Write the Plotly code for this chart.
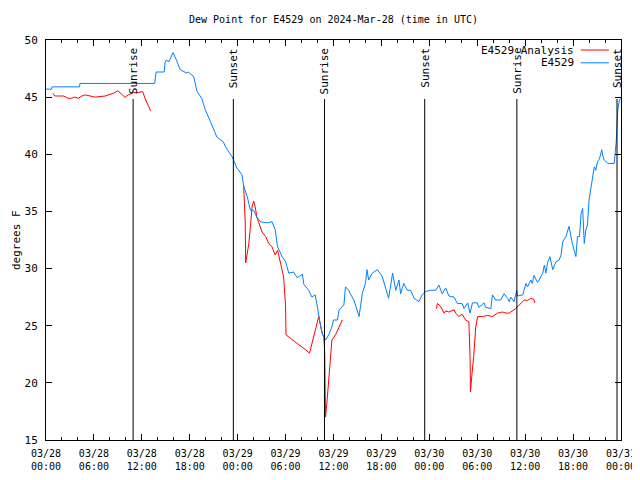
import pandas as pd
import plotly.graph_objects as go

BASE = pd.Timestamp("2024-03-28 00:00")

# E4529 observed dew point (hours since 03/28 00:00 UTC, degrees F)
obs_hours = [0.0, 0.7, 0.75, 4.2, 4.25, 13.6, 13.8, 14.8, 14.9, 15.05, 15.4, 15.9, 16.3, 16.8, 17.65, 17.8, 18.5, 18.9,
             19.5, 19.95, 20.6, 21.0, 21.4, 22.2, 22.45, 22.9, 23.3, 23.9, 24.55, 24.75, 25.2, 25.6, 26.0,
             26.4, 26.85, 27.7, 28.3, 28.7, 29.0, 29.6, 30.0, 30.4, 31.0, 31.45, 32.1, 32.3, 32.9, 33.3,
             33.7, 33.95, 34.15, 34.4, 34.6, 35.0, 35.4, 35.6, 35.8, 36.0, 36.5, 36.7, 36.9, 37.1, 37.3,
             37.5, 37.9, 38.1, 38.55, 38.8, 39.2, 39.6, 40.0, 40.2, 40.4, 40.85, 41.5, 42.1, 42.5, 42.9,
             43.4, 43.8, 44.2, 44.4, 44.8, 45.25, 45.65, 46.1, 46.7, 47.1, 47.55, 48.2, 48.8, 49.2, 49.6,
             50.05, 50.45, 51.1, 51.5, 52.1, 52.35, 52.8, 53.1, 53.4, 54.0, 54.2, 54.85, 55.05, 55.7, 55.9,
             56.3, 56.95, 57.35, 57.8, 58.0, 58.2, 58.6, 58.95, 59.05, 59.7, 60.1, 60.3, 60.7, 60.9, 61.1,
             61.55, 61.75, 62.2, 62.4, 62.6, 62.8, 63.1, 63.45, 63.85, 64.25, 64.5, 64.7, 65.1, 65.5, 65.7,
             65.9, 66.35, 66.55, 66.8, 67.0, 67.2, 67.4, 67.6, 67.8, 68.0, 68.25, 68.45, 68.65, 68.85, 69.05,
             69.3, 69.6, 69.7, 69.9, 70.35, 71.15, 71.4, 71.5, 71.6, 71.8, 72.0]
obs_values = [45.7, 45.7, 45.9, 45.9, 46.2, 46.2, 47.2, 47.2, 48.0, 48.25, 48.1, 48.9, 48.3, 47.4, 47.1, 47.2, 46.8, 45.5,
              44.9, 43.9, 42.85, 42.1, 41.5, 41.1, 40.7, 40.2, 39.8, 38.8, 38.2, 37.2, 36.3, 35.1, 35.1,
              34.5, 34.1, 34.0, 34.1, 33.4, 31.9, 31.0, 30.6, 29.6, 29.7, 29.2, 29.5, 28.6, 28.1, 27.5,
              27.7, 26.8, 25.8, 24.9, 24.3, 23.75, 24.2, 24.6, 24.9, 25.5, 25.5, 26.4, 26.5, 26.7, 26.8,
              28.4, 28.1, 27.8, 27.25, 26.7, 25.8, 27.8, 28.7, 29.9, 29.0, 29.6, 29.9, 29.3, 28.4, 27.4,
              29.6, 28.1, 29.0, 27.8, 28.7, 28.1, 28.1, 27.4, 27.1, 27.7, 28.0, 28.1, 28.1, 28.55, 27.8,
              28.3, 27.6, 27.5, 26.95, 26.95, 26.5, 27.0, 26.1, 27.0, 27.0, 26.6, 27.0, 26.6, 26.5, 27.7,
              27.25, 27.25, 27.8, 27.4, 27.1, 27.5, 27.1, 28.1, 27.6, 27.7, 28.7, 28.4, 29.0, 28.7, 29.4,
              28.8, 29.0, 29.6, 30.3, 29.6, 30.5, 31.05, 29.9, 30.6, 30.75, 31.2, 32.35, 32.8, 33.7, 32.8,
              32.2, 31.05, 32.8, 32.8, 34.8, 35.25, 32.2, 33.4, 33.8, 36.0, 37.2, 38.35, 38.9, 38.6, 39.35,
              39.6, 40.4, 39.9, 39.5, 39.2, 39.2, 41.1, 42.4, 43.9, 44.75, 44.9]

# E4529 Analysis (three separate segments)
ana1_hours = [0.85, 1.1, 2.2, 2.8, 3.2, 3.6, 4.05, 4.5, 4.9, 5.5, 6.15, 7.4, 8.0, 8.45, 9.0, 9.5, 9.9,
              10.3, 10.95, 11.6, 12.1, 12.4, 12.8, 13.1]
ana1_values = [45.34, 45.1, 45.1, 44.9, 44.9, 45.0, 44.9, 45.1, 45.2, 45.1, 45.0, 45.1, 45.2, 45.34, 45.56,
               45.2, 44.98, 45.2, 45.4, 45.4, 45.5, 44.9, 44.3, 43.8]
ana2_hours = [24.75, 24.95, 25.0, 25.2, 25.4, 25.6, 25.8, 26.0, 26.2, 26.4, 26.6, 26.85, 27.05, 27.5, 27.9,
              28.3, 28.7, 29.0, 29.35, 29.55, 29.75, 30.0, 30.05, 30.6, 31.2, 31.9, 32.5, 33.0, 33.3, 33.7,
              34.15, 34.6, 34.8, 34.9, 35.0, 35.2, 35.4, 35.6, 35.8, 36.25, 36.65, 37.1]
ana2_values = [37.3, 33.96, 30.5, 31.3, 32.2, 33.7, 35.4, 35.9, 35.4, 34.5, 34.1, 33.5, 33.2, 32.8, 32.2,
               31.9, 31.2, 31.6, 30.5, 29.9, 29.3, 26.7, 24.2, 23.9, 23.6, 23.2, 22.9, 22.6, 23.5, 24.6,
               25.8, 24.3, 24.0, 22.6, 17.0, 18.5, 20.25, 22.0, 23.75, 24.2, 24.8, 25.5]
ana3_hours = [48.9, 49.0, 49.4, 49.85, 50.05, 50.45, 51.1, 51.3, 51.7, 52.1, 52.55, 52.95, 53.1, 53.15, 53.3,
              53.55, 53.8, 54.05, 54.65, 55.3, 55.9, 56.55, 57.15, 57.6, 58.0, 58.8, 59.9, 60.3, 60.7,
              61.1, 61.2]
ana3_values = [26.5, 26.95, 26.7, 26.1, 26.3, 26.2, 26.4, 26.1, 25.8, 26.0, 25.5, 25.35, 22.3, 19.2, 20.5,
               22.3, 24.8, 25.8, 25.8, 25.9, 25.8, 26.1, 26.2, 26.1, 26.1, 26.5, 27.25, 27.2, 27.4,
               27.3, 27.0]

# Sun events (hours since 03/28 00:00 UTC)
sun_hours = [10.91, 23.46, 34.87, 47.42, 58.96, 71.5]
sun_labels = ["Sunrise", "Sunset", "Sunrise", "Sunset", "Sunrise", "Sunset"]

TITLE = "Dew Point for E4529 on 2024-Mar-28 (time in UTC)"
Y_LABEL = "degrees F"
SERIES_NAMES = ["E4529 Analysis", "E4529"]
RED = "#ff0000"
BLUE = "#0080ff"
FONT = "DejaVu Sans Mono"


def to_time(hours):
    return [BASE + pd.Timedelta(hours=h) for h in hours]


ana_x, ana_y = [], []
for hs, vs in [(ana1_hours, ana1_values), (ana2_hours, ana2_values), (ana3_hours, ana3_values)]:
    if ana_x:
        ana_x.append(None)
        ana_y.append(None)
    ana_x.extend(to_time(hs))
    ana_y.extend(vs)

fig = go.Figure()
fig.add_trace(go.Scatter(x=ana_x, y=ana_y, mode="lines", name=SERIES_NAMES[0],
                         line=dict(color=RED, width=1), connectgaps=False))
fig.add_trace(go.Scatter(x=to_time(obs_hours), y=obs_values, mode="lines", name=SERIES_NAMES[1],
                         line=dict(color=BLUE, width=1)))

for t, lab in zip(to_time(sun_hours), sun_labels):
    fig.add_shape(type="line", xref="x", yref="paper", x0=t, x1=t, y0=0, y1=0.8525,
                  line=dict(color="black", width=1))
    fig.add_annotation(x=t, xref="x", y=0.985, yref="paper", text=lab, textangle=-90,
                       showarrow=False, xanchor="center", yanchor="top",
                       font=dict(family=FONT, size=11, color="black"))

# manual legend (gnuplot style: text then line sample)
for i, (name, col) in enumerate(zip(SERIES_NAMES, [RED, BLUE])):
    yp = 0.975 - i * 0.032
    fig.add_annotation(x=0.922, xref="paper", y=yp, yref="paper", text=name, showarrow=False,
                       xanchor="right", yanchor="middle", font=dict(family=FONT, size=11, color="black"))
    fig.add_shape(type="line", xref="paper", yref="paper", x0=0.93, x1=0.979, y0=yp, y1=yp,
                  line=dict(color=col, width=1))

fig.add_annotation(x=-0.052, xref="paper", y=0.5, yref="paper", text=Y_LABEL, textangle=-90,
                   showarrow=False, xanchor="center", yanchor="middle",
                   font=dict(family=FONT, size=11, color="black"))

# page body has an 8px margin, so the figure is offset by 8px; compensate in margins
fig.update_layout(
    width=640, height=480,
    margin=dict(l=38, r=27, t=32, b=48, autoexpand=False),
    paper_bgcolor="white", plot_bgcolor="white",
    showlegend=False,
    title=dict(text=TITLE, xref="paper", x=0.5, xanchor="center", y=0.977, yanchor="middle",
               font=dict(family=FONT, size=10, color="black")),
    font=dict(family=FONT, size=10, color="black"),
)
fig.update_xaxes(
    range=[BASE, BASE + pd.Timedelta(hours=72)], automargin=False,
    dtick=6 * 3600 * 1000, tick0=BASE, tickformat="%m/%d<br>%H:%M",
    ticks="inside", ticklen=6, tickcolor="black", mirror="allticks", ticklabelstandoff=4,
    showline=True, linecolor="black", linewidth=1, showgrid=False, zeroline=False,
    minor=dict(dtick=2 * 3600 * 1000, tick0=BASE, ticks="inside", ticklen=3, tickcolor="black", showgrid=False),
    tickfont=dict(family=FONT, size=10, color="black"),
)
fig.update_yaxes(
    range=[15, 50], dtick=5, ticks="inside", ticklen=6, tickcolor="black", mirror="allticks",
    ticklabelstandoff=5,
    showline=True, linecolor="black", linewidth=1, showgrid=False, zeroline=False, automargin=False,
    tickfont=dict(family=FONT, size=11, color="black"),
)

fig.write_html("out.html")
